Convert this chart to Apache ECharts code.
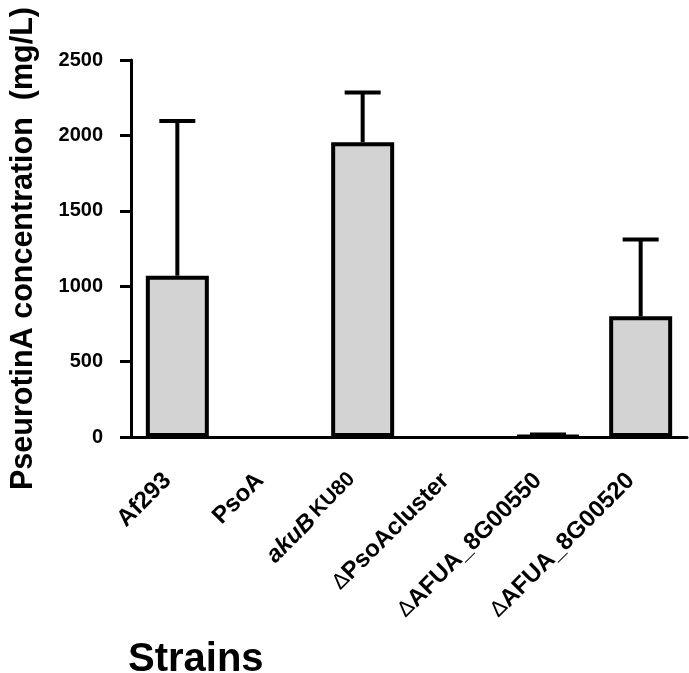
<!DOCTYPE html>
<html>
<head>
<meta charset="utf-8">
<script src="https://cdn.jsdelivr.net/npm/echarts@6/dist/echarts.min.js"></script>
<style>html,body{margin:0;padding:0;background:#fff;}#c{width:689px;height:673px;}</style>
</head>
<body>
<div id="c"></div>
<script>
const categories = ['Af293', 'PsoA', 'akuBKU80', 'ΔPsoAcluster', 'ΔAFUA_8G00550', 'ΔAFUA_8G00520'];
const means = [1070, 0, 1955, 0, 8, 800];
const errors = [1025, 0, 330, 0, 8, 510];
const yTicks = [0, 500, 1000, 1500, 2000, 2500];

const FONT = 'Liberation Sans';
const chart = echarts.init(document.getElementById('c'), null, {renderer: 'canvas'});

const barData = means.map(function (v) {
  return v === 0 ? {value: v, itemStyle: {borderWidth: 0, color: 'transparent'}} : v;
});
const errData = means.map(function (v, i) { return [i, v, errors[i]]; });

function fmtLabel(s) {
  if (s === 'akuBKU80') return '{i|akuB}{s|KU80}';
  if (s.charAt(0) === 'Δ') return '{d|Δ}{b|' + s.slice(1) + '}';
  return '{b|' + s + '}';
}

chart.setOption({
  animation: false,
  backgroundColor: '#fff',
  grid: {left: 126, right: 2, top: 60, bottom: 236},
  title: {
    text: 'Strains', left: 123, top: 635,
    textStyle: {fontFamily: FONT, fontWeight: 'bold', fontSize: 40, color: '#000'}
  },
  xAxis: {
    type: 'category',
    data: categories,
    axisLine: {lineStyle: {color: '#000', width: 3}},
    axisTick: {alignWithLabel: true, length: 9, lineStyle: {color: '#000', width: 3}},
    axisLabel: {
      rotate: 45, margin: 30, interval: 0,
      padding: [0, 14, 0, 0],
      formatter: fmtLabel,
      rich: {
        b: {fontFamily: FONT, fontWeight: 'bold', fontSize: 24, color: '#000'},
        i: {fontFamily: FONT, fontWeight: 'bold', fontStyle: 'italic', fontSize: 24, color: '#000'},
        s: {fontFamily: FONT, fontWeight: 'bold', fontSize: 21, color: '#000', verticalAlign: 'top', padding: [0, 0, 0, 4]},
        d: {fontFamily: FONT, fontWeight: 'normal', fontSize: 22, color: '#000'}
      }
    }
  },
  yAxis: {
    type: 'value',
    min: 0, max: 2500, interval: 500,
    name: 'PseurotinA concentration  (mg/L)',
    nameLocation: 'middle',
    nameRotate: 90,
    nameGap: 92,
    nameTextStyle: {fontFamily: FONT, fontWeight: 'bold', fontSize: 30.5, color: '#000'},
    axisLine: {show: true, lineStyle: {color: '#000', width: 3}},
    axisTick: {show: true, length: 11, lineStyle: {color: '#000', width: 3}},
    splitLine: {show: false},
    axisLabel: {
      margin: 28,
      fontFamily: FONT, fontWeight: 'bold', fontSize: 20, color: '#000',
      formatter: function (v) { return yTicks.indexOf(v) >= 0 ? String(v) : ''; }
    }
  },
  series: [
    {
      type: 'bar',
      data: barData,
      barWidth: 63,
      itemStyle: {color: '#d3d3d3', borderColor: '#000', borderWidth: 4},
      z: 2
    },
    {
      type: 'custom',
      data: errData,
      z: 3,
      renderItem: function (params, api) {
        const i = api.value(0), v = api.value(1), e = api.value(2);
        if (!e) return null;
        const p0 = api.coord([i, v]);
        const p1 = api.coord([i, v + e]);
        const hw = 18;
        const st = {stroke: '#000', lineWidth: 4, fill: null};
        return {
          type: 'group',
          children: [
            {type: 'line', shape: {x1: p0[0], y1: p0[1], x2: p1[0], y2: p1[1]}, style: st},
            {type: 'line', shape: {x1: p1[0] - hw, y1: p1[1], x2: p1[0] + hw, y2: p1[1]}, style: st}
          ]
        };
      }
    }
  ]
});
</script>
</body>
</html>
